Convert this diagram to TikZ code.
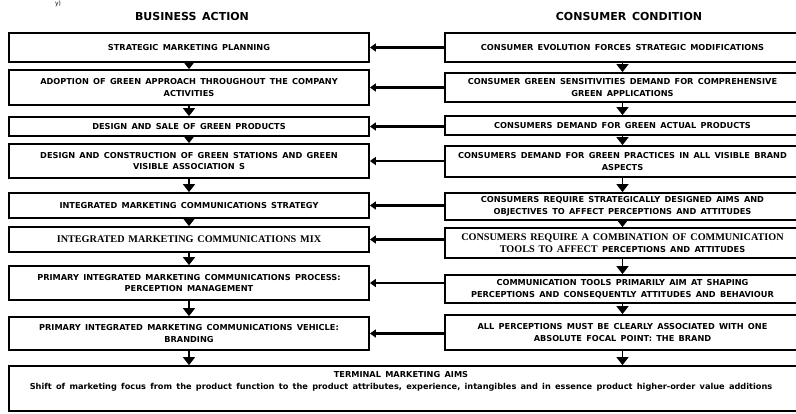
\documentclass[tikz,border=0pt]{standalone}
\usepackage{fontspec}
\usetikzlibrary{arrows.meta}
\setmainfont{DejaVu Sans}[WordSpace=1.5]
\newfontfamily\boxfam{DejaVu Sans}[WordSpace=1.5]
\newfontfamily\seriffam{Liberation Serif}[WordSpace=1.5]
\newcommand{\bxf}{\boxfam\fontsize{8.2}{11.8}\selectfont\bfseries}
\newcommand{\srf}{\seriffam\fontsize{10.2}{11.8}\selectfont\bfseries}
\tikzset{
  box/.style={draw, line width=1.8pt, inner sep=0pt, align=center, font=\bxf},
  lbox/.style={box, minimum width=360pt},
  rbox/.style={box, minimum width=355pt},
  down/.style={-{Triangle[width=12pt,length=8pt]}, line width=1.6pt},
  harrow/.style={-{Triangle[width=8pt,length=6pt]}, line width=2.2pt},
  head/.style={font=\boxfam\fontsize{11}{13}\selectfont\bfseries}
}
\begin{document}
\begin{tikzpicture}[x=1pt,y=-1pt]
\useasboundingbox (0,0) rectangle (796,413);
\node[font=\boxfam\fontsize{6}{7}\selectfont, anchor=north, inner sep=0.5pt] (frag) at (58,0.5) {y)};
\node[head] (hl) at (192,16) {BUSINESS ACTION};
\node[head] (hr) at (629,16) {CONSUMER CONDITION};
% left column
\node[lbox, minimum height=29pt] (L1) at (189,47.5) {STRATEGIC MARKETING PLANNING};
\node[lbox, minimum height=35pt] (L2) at (189,87.5) {ADOPTION OF GREEN APPROACH THROUGHOUT THE COMPANY\\ACTIVITIES};
\node[lbox, minimum height=19pt] (L3) at (189,126.5) {DESIGN AND SALE OF GREEN PRODUCTS};
\node[lbox, minimum height=34pt] (L4) at (189,161) {DESIGN AND CONSTRUCTION OF GREEN STATIONS AND GREEN\\VISIBLE ASSOCIATION S};
\node[lbox, minimum height=25pt] (L5) at (189,205.5) {INTEGRATED MARKETING COMMUNICATIONS STRATEGY};
\node[lbox, minimum height=25pt, font=\srf] (L6) at (189,239.5) {INTEGRATED MARKETING COMMUNICATIONS MIX};
\node[lbox, minimum height=34pt] (L7) at (189,283) {PRIMARY INTEGRATED MARKETING COMMUNICATIONS PROCESS:\\PERCEPTION MANAGEMENT};
\node[lbox, minimum height=33pt] (L8) at (189,333.5) {PRIMARY INTEGRATED MARKETING COMMUNICATIONS VEHICLE:\\BRANDING};
% right column
\node[rbox, minimum height=29pt] (R1) at (622.5,47.5) {CONSUMER EVOLUTION FORCES STRATEGIC MODIFICATIONS};
\node[rbox, minimum height=29pt] (R2) at (622.5,87.5) {CONSUMER GREEN SENSITIVITIES DEMAND FOR COMPREHENSIVE\\GREEN APPLICATIONS};
\node[rbox, minimum height=19pt] (R3) at (622.5,125.5) {CONSUMERS DEMAND FOR GREEN ACTUAL PRODUCTS};
\node[rbox, minimum height=31pt] (R4) at (622.5,161.5) {CONSUMERS DEMAND FOR GREEN PRACTICES IN ALL VISIBLE BRAND\\ASPECTS};
\node[rbox, minimum height=27pt] (R5) at (622.5,206.5) {CONSUMERS REQUIRE STRATEGICALLY DESIGNED AIMS AND\\OBJECTIVES TO AFFECT PERCEPTIONS AND ATTITUDES};
\node[rbox, minimum height=30pt] (R6) at (622.5,243) {{\srf CONSUMERS REQUIRE A COMBINATION OF COMMUNICATION}\\{\srf TOOLS TO AFFECT} PERCEPTIONS AND ATTITUDES};
\node[rbox, minimum height=28pt] (R7) at (622.5,289) {COMMUNICATION TOOLS PRIMARILY AIM AT SHAPING\\PERCEPTIONS AND CONSEQUENTLY ATTITUDES AND BEHAVIOUR};
\node[rbox, minimum height=35pt] (R8) at (622.5,332.5) {ALL PERCEPTIONS MUST BE CLEARLY ASSOCIATED WITH ONE\\ABSOLUTE FOCAL POINT: THE BRAND};
% bottom box
\node[box, minimum width=791pt, minimum height=45pt] (B) at (404.5,388.5) {};
\node[font=\bxf, align=center] (Bt) at (401,381.5) {TERMINAL MARKETING AIMS\\Shift of marketing focus from the product function to the product attributes, experience, intangibles and in essence product higher-order value additions};
% vertical arrows
\foreach \a/\b in {L1/L2,L2/L3,L3/L4,L4/L5,L5/L6,L6/L7,L7/L8,R1/R2,R2/R3,R3/R4,R4/R5,R5/R6,R6/R7,R7/R8}
  \draw[down] (\a.south) -- (\b.north);
\draw[down] (L8.south) -- (L8.south |- B.north);
\draw[down] (R8.south) -- (R8.south |- B.north);
% horizontal arrows
\foreach \i in {1,...,8}
  \draw[harrow] (R\i.west |- L\i.east) -- (L\i.east);
\end{tikzpicture}
\end{document}
